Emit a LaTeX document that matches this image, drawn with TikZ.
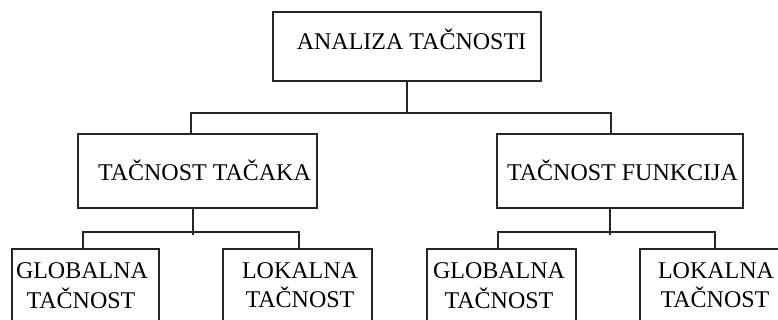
\documentclass[tikz,border=0pt]{standalone}
\usepackage{fontspec}
\setmainfont{Liberation Serif}
\begin{document}
\begin{tikzpicture}[x=1pt,y=-1pt,
  box/.style={draw=black!85, line width=1.4pt, inner sep=0pt, outer sep=0pt},
  conn/.style={draw=black!85, line width=1.3pt},
  lbl/.style={font=\fontsize{24}{30}\selectfont, inner sep=0pt, anchor=base, text=black}]
\useasboundingbox (0,0) rectangle (778,320);
\clip (0,0) rectangle (778,320);
% boxes
\node[box, minimum width=268pt, minimum height=69pt] (top) at (407,46.5) {};
\node[box, minimum width=239pt, minimum height=74pt] (tt) at (197.5,171) {};
\node[box, minimum width=246pt, minimum height=74pt] (tf) at (620,171) {};
\node[box, minimum width=147pt, minimum height=96pt] (g1) at (85.5,297) {};
\node[box, minimum width=149pt, minimum height=96pt] (l1) at (297.5,297) {};
\node[box, minimum width=149pt, minimum height=96pt] (g2) at (501.5,297) {};
\node[box, minimum width=160pt, minimum height=96pt] (l2) at (720,297) {};
% texts
\node[lbl] (topt) at (411.5,50) {ANALIZA TAČNOSTI};
\node[lbl] (ttt) at (204.5,181) {TAČNOST TAČAKA};
\node[lbl] (tft) at (622.5,181) {TAČNOST FUNKCIJA};
\node[lbl] (g1a) at (82,278) {GLOBALNA};
\node[lbl] (g1b) at (81,308) {TAČNOST};
\node[lbl] (l1a) at (300,278) {LOKALNA};
\node[lbl] (l1b) at (300,307) {TAČNOST};
\node[lbl] (g2a) at (499,278) {GLOBALNA};
\node[lbl] (g2b) at (499,308) {TAČNOST};
\node[lbl] (l2a) at (716,278) {LOKALNA};
\node[lbl] (l2b) at (715,307) {TAČNOST};
% junctions
\coordinate (ja) at (191,113);
\coordinate (jb) at (611,113);
\coordinate (kc) at (193,235);
\coordinate (jc) at (83,232);
\coordinate (jd) at (299,232);
\coordinate (ke) at (610,235);
\coordinate (je) at (498,232);
\coordinate (jf) at (715,232);
% connectors
\draw[conn] (top.south) -- (top.south |- ja);
\draw[conn] (ja |- tt.north) -- (ja) -- (jb) -- (jb |- tf.north);
\draw[conn] (kc |- tt.south) -- (kc);
\draw[conn] (jc |- g1.north) -- (jc) -- (jd) -- (jd |- l1.north);
\draw[conn] (ke |- tf.south) -- (ke);
\draw[conn] (je |- g2.north) -- (je) -- (jf) -- (jf |- l2.north);
\end{tikzpicture}
\end{document}
